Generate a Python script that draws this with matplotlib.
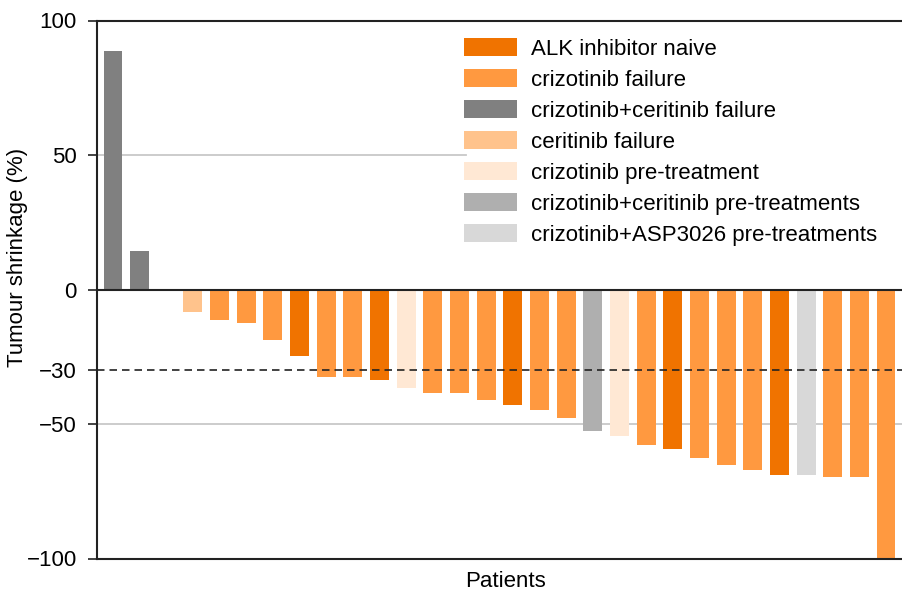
import numpy as np
import matplotlib
matplotlib.use('Agg')
import matplotlib.pyplot as plt
from matplotlib.patches import Patch

plt.rcParams['font.family'] = ['Liberation Sans', 'DejaVu Sans']

# Tumour shrinkage per patient (%), left to right
shrinkage = [88.6, 14.3, 0.0, -8.4, -11.5, -12.6, -18.6, -24.8, -32.6, -32.6,
             -33.8, -36.7, -38.5, -38.5, -41.1, -43.0, -44.8, -47.8, -52.6, -54.5,
             -57.8, -59.3, -62.7, -65.3, -67.1, -69.0, -69.0, -69.8, -69.8, -100.0]

# treatment group of each patient
groups = ['cc_fail', 'cc_fail', 'criz_fail', 'cer_fail', 'criz_fail', 'criz_fail', 'criz_fail',
          'naive', 'criz_fail', 'criz_fail', 'naive', 'criz_pre', 'criz_fail', 'criz_fail',
          'criz_fail', 'naive', 'criz_fail', 'criz_fail', 'cc_pre', 'criz_pre', 'criz_fail',
          'naive', 'criz_fail', 'criz_fail', 'criz_fail', 'naive', 'asp_pre', 'criz_fail',
          'criz_fail', 'criz_fail']

group_keys = ['naive', 'criz_fail', 'cc_fail', 'cer_fail', 'criz_pre', 'cc_pre', 'asp_pre']
group_labels = ['ALK inhibitor naive', 'crizotinib failure', 'crizotinib+ceritinib failure',
                'ceritinib failure', 'crizotinib pre-treatment',
                'crizotinib+ceritinib pre-treatments', 'crizotinib+ASP3026 pre-treatments']
group_colors = ['#f07300', '#ff9940', '#808080', '#ffc38c', '#ffe8d4', '#afafaf', '#d8d8d8']

yticks = [100, 50, 0, -30, -50, -100]
ytick_labels = ['100', '50', '0', '\u221230', '\u221250', '\u2212100']

color_of = dict(zip(group_keys, group_colors))
x = np.arange(len(shrinkage))

fig = plt.figure(figsize=(9.02, 5.94), dpi=100)
ax = fig.add_axes([97 / 902, 1 - 558.5 / 594, 1 - 97 / 902, (558.5 - 20.5) / 594])

# reference lines (the 50 line stops where the legend starts)
ax.axhline(50, xmax=0.458, color='#c8c8c8', lw=1.3, zorder=0)
ax.axhline(-50, color='#c8c8c8', lw=1.3, zorder=0)
ax.bar(x, shrinkage, width=0.71, color=[color_of[g] for g in groups], zorder=2)
ax.axhline(0, color='#222222', lw=1.5, zorder=3)
ax.axhline(-30, color='#222222', lw=1.2, ls=(0, (4.5, 3)), zorder=3)

ax.set_xlim(-0.6, len(shrinkage) - 0.4)
ax.set_ylim(-100, 100)
ax.set_yticks(yticks)
ax.set_yticklabels(ytick_labels, fontsize=16)
ax.set_xticks([])
ax.tick_params(axis='y', direction='out', length=6.5, width=1.2, pad=8, color='#222222')

for s in ['left', 'top', 'bottom']:
    ax.spines[s].set_linewidth(1.5)
    ax.spines[s].set_color('#222222')
ax.spines['right'].set_visible(False)

ax.set_ylabel('Tumour shrinkage (%)', fontsize=16)
ax.yaxis.set_label_coords(-0.086, 0.559)
ax.set_xlabel('Patients', fontsize=16)
ax.xaxis.set_label_coords(0.507, -0.063)
ax.xaxis.label.set_va('bottom')

handles = [Patch(facecolor=c, edgecolor='none') for c in group_colors]
leg = ax.legend(handles, group_labels, loc='upper left', bbox_to_anchor=(0.456, 0.968),
                fontsize=16, frameon=False, handlelength=2.4, handleheight=0.9,
                handletextpad=0.6, labelspacing=0.41, borderpad=0, borderaxespad=0)

fig.savefig('out.png', dpi=100)
